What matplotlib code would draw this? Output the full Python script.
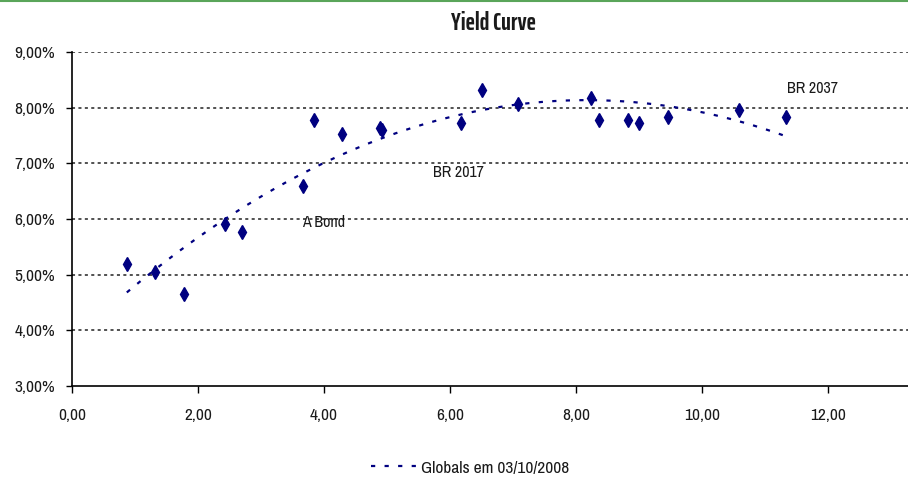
import numpy as np
import matplotlib
matplotlib.use("Agg")
import matplotlib.pyplot as plt
from matplotlib import font_manager
from matplotlib.font_manager import FontProperties
from matplotlib.textpath import TextPath
from matplotlib.ticker import FuncFormatter
from matplotlib.lines import Line2D

# Duration (years) and yield (%) of the global bonds
duration = [0.87, 1.32, 1.78, 2.43, 2.70, 3.67, 3.84, 4.29, 4.89, 4.92,
            6.17, 6.51, 7.08, 8.24, 8.37, 8.83, 9.00, 9.46, 10.59, 11.33]
yield_pct = [5.19, 5.05, 4.65, 5.91, 5.77, 6.59, 7.78, 7.53, 7.63, 7.60,
             7.72, 8.32, 8.07, 8.17, 7.78, 7.78, 7.72, 7.83, 7.96, 7.83]

# Named bonds
bond_names = ["A Bond", "BR 2017", "BR 2037"]
bond_label_x = [4.0, 6.13, 11.75]
bond_label_y = [5.93, 6.83, 8.35]

x_ticks = [0, 2, 4, 6, 8, 10, 12]
y_ticks = [3, 4, 5, 6, 7, 8, 9]
legend_text = "Globals em 03/10/2008"
title_text = "Yield Curve"

_WNAMES = {"ultralight": 200, "extralight": 200, "thin": 100, "light": 300,
           "normal": 400, "regular": 400, "book": 400, "medium": 500,
           "semibold": 600, "demibold": 600, "demi": 600, "bold": 700,
           "extra bold": 800, "heavy": 800, "black": 900}


def _weight(f):
    w = f.weight
    if isinstance(w, str):
        w = _WNAMES.get(w.lower(), 400)
    if any(t in f.fname.lower() for t in ("light", "thin")):
        w = min(int(w), 300)
    return int(w)


def _ratio(fp, s):
    ext = TextPath((0, 0), s, size=10, prop=fp).get_extents()
    return ext.width / max(ext.height, 1e-6)


# body text: a narrow sans face when one is available
body = None
for f in font_manager.fontManager.ttflist:
    if "Narrow" in f.name:
        body = (f.name, "normal")
        break
if body is None:
    for f in font_manager.fontManager.ttflist:
        if f.stretch in ("condensed", "semi-condensed") or "Condensed" in f.fname:
            body = (f.name, "condensed")
            break
if body is None:
    body = ("Liberation Sans", "normal")

# title: the most condensed sans face that has a bold cut
cands = {}
for f in font_manager.fontManager.ttflist:
    nm = f.name.lower()
    if ("serif" in nm and "sans" not in nm) or "mono" in nm or "slab" in nm:
        continue
    is_narrow = "Narrow" in f.name
    is_cond = f.stretch in ("condensed", "semi-condensed") or "condensed" in f.fname.lower()
    if (is_narrow or is_cond) and "italic" not in f.fname.lower() and f.style == "normal":
        stretch = "normal" if is_narrow else (f.stretch if f.stretch != "normal" else "condensed")
        cands.setdefault((f.name, stretch), set()).add(_weight(f))

title_face = None
best_t = 1e9
for (name, stretch), ws in cands.items():
    if any(w >= 600 for w in ws):
        try:
            rb = _ratio(FontProperties(family=name, stretch=stretch, weight="bold"), title_text)
        except Exception:
            rb = 1e9
        if rb < best_t:
            best_t, title_face = rb, (name, stretch)
if title_face is None:
    title_face = body

plt.rcParams["font.family"] = [body[0], "DejaVu Sans"]
plt.rcParams["font.stretch"] = body[1]
plt.rcParams["font.weight"] = "normal"
title_fp = FontProperties(family=[title_face[0], "DejaVu Sans"], stretch=title_face[1],
                          weight="bold", size=18)

SIZE = 12.5
TXT = "#1a1a1a"
NAVY = "#000080"

fig = plt.figure(figsize=(9.08, 4.8), dpi=100)
fig.patch.set_facecolor("white")
ax = fig.add_axes([72 / 908, 1 - 386 / 480, 1 - 72 / 908, (386 - 52) / 480])

ax.set_xlim(0, 13.27)
ax.set_ylim(3, 9)

# polynomial (order 2) trend line
coef = np.polyfit(duration, yield_pct, 2)
xt = np.linspace(min(duration), max(duration), 200)
ax.plot(xt, np.polyval(coef, xt), color=NAVY, lw=1.6,
        linestyle=(0, (1.9, 4.2)), zorder=3)

ax.plot(duration, yield_pct, linestyle="none", marker="d", markersize=7.5,
        color=NAVY, markeredgecolor=NAVY, zorder=4)

for name, lx, ly in zip(bond_names, bond_label_x, bond_label_y):
    ax.text(lx, ly, name, ha="center", va="center", fontsize=SIZE - 1, color=TXT)

ax.set_xticks(x_ticks)
ax.set_yticks(y_ticks)
ax.xaxis.set_major_formatter(FuncFormatter(lambda v, p: f"{v:.2f}".replace(".", ",")))
ax.yaxis.set_major_formatter(FuncFormatter(lambda v, p: f"{v:.2f}".replace(".", ",") + "%"))
ax.tick_params(axis="x", direction="out", length=5, width=1, pad=11,
               labelsize=SIZE, labelcolor=TXT)
ax.tick_params(axis="y", direction="out", length=4, width=1, pad=8,
               labelsize=SIZE, labelcolor=TXT)

for s in ["top", "right"]:
    ax.spines[s].set_visible(False)
ax.spines["left"].set_linewidth(1.2)
ax.spines["bottom"].set_linewidth(1.2)

for yv in y_ticks[1:]:
    ax.axhline(yv, color="#222222", lw=1.1, linestyle=(0, (2.0, 2.2)), zorder=1)

fig.text(493 / 908, 1 - 23 / 480, title_text, ha="center", va="center",
         fontproperties=title_fp, color=TXT)

# legend entry below the plot
handle = Line2D([], [], color=NAVY, lw=1.6, linestyle=(0, (1.9, 4.2)))
fig.legend([handle], [legend_text], loc="center", bbox_to_anchor=(470 / 908, 1 - 468 / 480),
           frameon=False, fontsize=SIZE, handlelength=2.6, handletextpad=0.3,
           labelcolor=TXT)

# green frame line along the top
fig.add_artist(Line2D([0, 1], [0.998, 0.998], transform=fig.transFigure,
                      color="#5aa55a", lw=1.5))

fig.savefig("out.png", dpi=100, facecolor="white")
